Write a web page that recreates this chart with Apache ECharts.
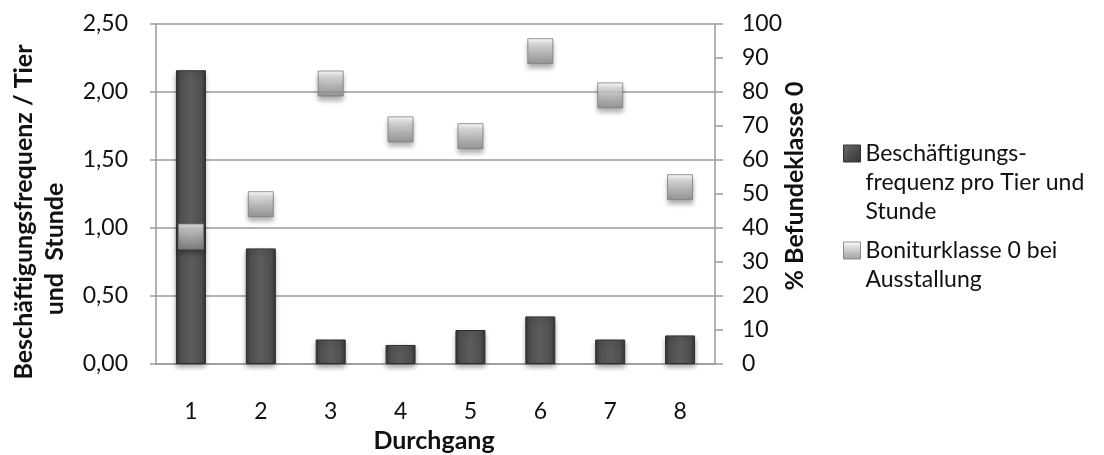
<!DOCTYPE html>
<html><head><meta charset="utf-8">
<script src="https://cdn.jsdelivr.net/npm/echarts@6/dist/echarts.min.js"></script>
<style>html,body{margin:0;padding:0;background:#fff}#c{width:1104px;height:455px}</style>
</head><body><div id="c"></div>
<script>
const categories = ['1','2','3','4','5','6','7','8'];
const frequency = [2.16, 0.85, 0.18, 0.14, 0.25, 0.35, 0.18, 0.21];
const bonitur = [37.5, 47, 82.5, 69, 67, 92, 79, 52];
const seriesNames = ['Beschäftigungs-\nfrequenz pro Tier und\nStunde', 'Boniturklasse 0 bei\nAusstallung'];
const leftTitle = ['Beschäftigungsfrequenz / Tier', 'und  Stunde'];
const rightTitle = '% Befundeklasse 0';
const xTitle = 'Durchgang';

const FONT = 'Lato';
const FS = 23;
const TFS = 25;
const chart = echarts.init(document.getElementById('c'), null, {renderer:'canvas'});
const axisGray = '#9a9a9a';
const barColor = {type:'linear', x:0, y:0, x2:1, y2:0, colorStops:[
  {offset:0, color:'#353535'},{offset:0.15,color:'#4f4f4f'},{offset:0.5, color:'#5c5c5c'},{offset:0.85,color:'#4f4f4f'},{offset:1, color:'#353535'}]};
const markColor = {type:'linear', x:0, y:0, x2:0, y2:1, colorStops:[
  {offset:0, color:'#ffffff'},{offset:0.3, color:'#d6d6d6'},{offset:0.6, color:'#b2b2b2'},{offset:1, color:'#8c8c8c'}]};
const legendBarIcon = {type:'linear', x:0, y:0, x2:1, y2:1, colorStops:[{offset:0,color:'#6a6a6a'},{offset:1,color:'#333'}]};
// prepend blank lines so that the first text line sits level with the legend icon
const alignFirstLine = name => { const n = name.split('\n').length; return '\n'.repeat(n - 1) + name; };

chart.setOption({
  animation:false,
  textStyle:{fontFamily:FONT},
  grid:{left:156, right:389, top:24, bottom:91, containLabel:false},
  legend:[
    {data:[{name:seriesNames[0], itemStyle:{color:legendBarIcon, borderColor:'#333', borderWidth:1}}], left:843, top:81, padding:0, orient:'vertical',
     itemWidth:17, itemHeight:17, icon:'rect', selectedMode:false, formatter:alignFirstLine,
     textStyle:{fontFamily:FONT, fontSize:FS, color:'#111', lineHeight:29}},
    {data:[{name:seriesNames[1], itemStyle:{color:markColor, borderColor:'#777', borderWidth:1}}], left:843, top:207, padding:0, orient:'vertical',
     itemWidth:17, itemHeight:17, icon:'rect', selectedMode:false, formatter:alignFirstLine,
     textStyle:{fontFamily:FONT, fontSize:FS, color:'#111', lineHeight:29}}
  ],
  xAxis:{type:'category', data:categories,
    axisLine:{lineStyle:{color:axisGray, width:1.5}}, axisTick:{show:false},
    axisLabel:{fontFamily:FONT, fontSize:FS, color:'#111', margin:36}},
  yAxis:[
    {type:'value', min:0, max:2.5, interval:0.5,
     axisLine:{show:true, lineStyle:{color:axisGray, width:1.5}},
     axisTick:{show:true, inside:false, length:6, lineStyle:{color:axisGray, width:1.5}},
     splitLine:{show:true, lineStyle:{color:axisGray, width:1.5}},
     axisLabel:{fontFamily:FONT, fontSize:FS, color:'#111', margin:28, formatter:v=>v.toFixed(2).replace('.',',')}},
    {type:'value', min:0, max:100, interval:10, position:'right',
     axisLine:{show:true, lineStyle:{color:axisGray, width:1.5}},
     axisTick:{show:true, inside:false, length:8, lineStyle:{color:axisGray, width:1.5}},
     splitLine:{show:false},
     axisLabel:{fontFamily:FONT, fontSize:FS, color:'#111', margin:27}}
  ],
  graphic:[
    {type:'text', x:24, y:212, rotation:Math.PI/2, style:{text:leftTitle[0], font:'bold '+TFS+'px '+FONT, fill:'#111', align:'center', verticalAlign:'middle'}},
    {type:'text', x:55, y:249, rotation:Math.PI/2, style:{text:leftTitle[1], font:'bold '+TFS+'px '+FONT, fill:'#111', align:'center', verticalAlign:'middle'}},
    {type:'text', x:795, y:186, rotation:Math.PI/2, style:{text:rightTitle, font:'bold '+TFS+'px '+FONT, fill:'#111', align:'center', verticalAlign:'middle'}},
    {type:'text', x:434, y:441, style:{text:xTitle, font:'bold '+TFS+'px '+FONT, fill:'#111', align:'center', verticalAlign:'middle'}}
  ],
  series:[
    {name:seriesNames[0], type:'bar', data:frequency, barWidth:30, yAxisIndex:0, z:2,
     itemStyle:{color:barColor, borderColor:'#2e2e2e', borderWidth:1, shadowColor:'rgba(0,0,0,0.35)', shadowBlur:5, shadowOffsetY:3}},
    {name:seriesNames[1], type:'scatter', data:bonitur, yAxisIndex:1, symbol:'rect', symbolSize:25, z:3,
     itemStyle:{color:markColor, borderColor:'#7a7a7a', borderWidth:1, shadowColor:'rgba(0,0,0,0.4)', shadowBlur:5, shadowOffsetY:4}}
  ]
});
</script></body></html>
